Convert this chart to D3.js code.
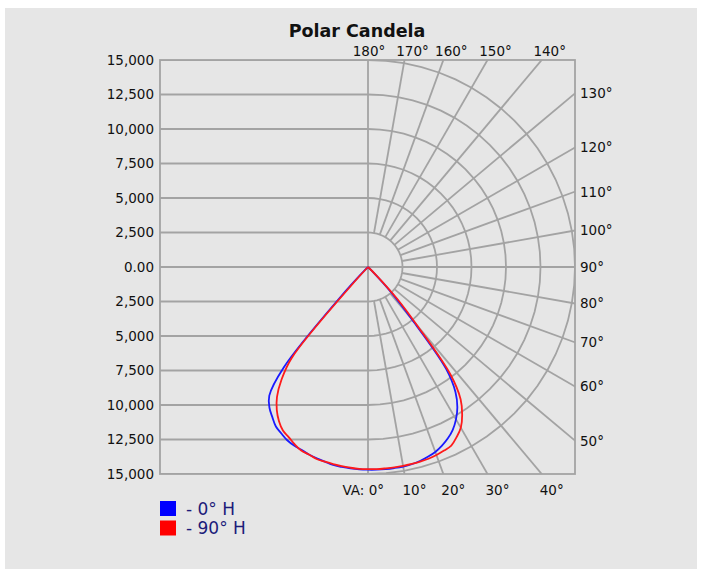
<!DOCTYPE html>
<html>
<head>
<meta charset="utf-8">
<script src="https://cdn.jsdelivr.net/npm/d3@7"></script>
<style>
  body { margin: 0; background: #fff; }
  text { font-family: "DejaVu Sans", Verdana, sans-serif; }
</style>
</head>
<body>
<script>
'use strict';

// vertical angles (deg from nadir) and candela for each half plane
const vAngles = [0, 2.5, 5, 7.5, 10, 12.5, 15, 17.5, 20, 22.5, 25, 27.5, 30, 32.5, 35, 37.5, 40, 42.5, 45, 47.5, 50, 60, 70, 80, 90];
// 0° H plane (blue): right half = 0°, left half = 180°
const h0Right = [14710, 14700, 14700, 14690, 14680, 14640, 14550, 14420, 14260, 14010, 13700, 13300, 12750, 12050, 11050, 9300, 4900, 2400, 400, 0, 0, 0, 0, 0, 0];
const h0Left = [14690, 14680, 14650, 14610, 14570, 14450, 14350, 14240, 14100, 14000, 13850, 13600, 13350, 12900, 12450, 11750, 9500, 3000, 300, 0, 0, 0, 0, 0, 0];
// 90° H plane (red): right half = 90°, left half = 270°
const h90Right = [14660, 14660, 14650, 14650, 14640, 14620, 14600, 14570, 14500, 14400, 14280, 13900, 13450, 12700, 11700, 9800, 5600, 3100, 900, 0, 0, 0, 0, 0, 0];
const h90Left = [14650, 14640, 14600, 14560, 14500, 14450, 14400, 14250, 14150, 13900, 13600, 13350, 12900, 12300, 11500, 10300, 8600, 1500, 0, 0, 0, 0, 0, 0, 0];

const seriesNames = ["- 0\u00b0 H", "- 90\u00b0 H"];
const seriesColors = ["#1a1aff", "#ff1a1a"];

const candelaTicks = [15000, 12500, 10000, 7500, 5000, 2500, 0, -2500, -5000, -7500, -10000, -12500, -15000];
const ringValues = [2500, 5000, 7500, 10000, 12500, 15000];
const spokeAngles = [10, 20, 30, 40, 50, 60, 70, 80, 100, 110, 120, 130, 140, 150, 160, 170];
const topLabels = [180, 170, 160, 150, 140];
const rightLabels = [130, 120, 110, 100, 90, 80, 70, 60, 50];
const bottomLabels = [0, 10, 20, 30, 40];

const width = 702, height = 575;
const cx = 368, cy = 267, R = 207;
const plotLeft = 160, plotRight = cx + R, plotTop = cy - R, plotBottom = cy + R;
const gridColor = "#a3a3a3";
const bg = "#e6e6e6";

const svg = d3.select("body").append("svg")
  .attr("width", width)
  .attr("height", height);

// gray panel
svg.append("rect")
  .attr("x", 5).attr("y", 8)
  .attr("width", 692).attr("height", 561)
  .attr("fill", bg);

// scales
const rScale = d3.scaleLinear().domain([0, 15000]).range([0, R]);
const yScale = d3.scaleLinear().domain([-15000, 15000]).range([plotBottom, plotTop]);
const rad = (deg) => deg * Math.PI / 180;

svg.append("clipPath").attr("id", "plotClip")
  .append("rect")
  .attr("x", plotLeft).attr("y", plotTop)
  .attr("width", plotRight - plotLeft).attr("height", plotBottom - plotTop);

const grid = svg.append("g")
  .attr("clip-path", "url(#plotClip)")
  .attr("fill", "none")
  .attr("stroke", gridColor)
  .attr("stroke-width", 1.8);

// left half: horizontal candela lines
grid.selectAll(".hline")
  .data(candelaTicks)
  .enter()
  .append("line")
  .attr("x1", plotLeft).attr("x2", cx)
  .attr("y1", (d) => yScale(d)).attr("y2", (d) => yScale(d));

// axis lines through the centre
grid.append("line").attr("x1", cx).attr("x2", cx).attr("y1", plotTop).attr("y2", plotBottom);
grid.append("line").attr("x1", cx).attr("x2", plotRight).attr("y1", cy).attr("y2", cy);

// rings on right half (polyline through the spokes)
const ringLine = d3.lineRadial()
  .angle((d) => Math.PI - rad(d[0]))
  .radius((d) => rScale(d[1]));
ringValues.forEach((v) => {
  const pts = d3.range(0, 181, 5).map((a) => [a, v]);
  grid.append("path")
    .attr("transform", `translate(${cx},${cy})`)
    .attr("d", ringLine(pts));
});

// spokes from inner ring out past the frame
grid.selectAll(".spoke")
  .data(spokeAngles)
  .enter()
  .append("line")
  .attr("x1", (d) => cx + rScale(2500) * Math.sin(rad(d)))
  .attr("y1", (d) => cy + rScale(2500) * Math.cos(rad(d)))
  .attr("x2", (d) => cx + 2 * R * Math.sin(rad(d)))
  .attr("y2", (d) => cy + 2 * R * Math.cos(rad(d)));

// frame
svg.append("rect")
  .attr("x", plotLeft).attr("y", plotTop)
  .attr("width", plotRight - plotLeft).attr("height", plotBottom - plotTop)
  .attr("fill", "none")
  .attr("stroke", gridColor)
  .attr("stroke-width", 1.8);

// candela labels on the left
const fmt = d3.format(",");
svg.append("g").selectAll("text")
  .data(candelaTicks)
  .enter()
  .append("text")
  .attr("x", plotLeft - 6)
  .attr("y", (d) => yScale(d))
  .attr("dy", "0.36em")
  .attr("text-anchor", "end")
  .style("font-size", "13.5px")
  .attr("fill", "#111")
  .text((d) => d === 0 ? "0.00" : fmt(Math.abs(d)));

// angle labels: where each spoke hits the frame
function edgeHit(a) {
  const sx = Math.sin(rad(a)), sy = Math.cos(rad(a));
  let t = Infinity;
  if (sx > 1e-6) t = Math.min(t, R / sx);
  if (Math.abs(sy) > 1e-6) t = Math.min(t, R / Math.abs(sy));
  return [cx + t * sx, cy + t * sy];
}

svg.append("g").selectAll("text")
  .data(topLabels)
  .enter()
  .append("text")
  .attr("x", (d) => d === 180 ? edgeHit(d)[0] + 1 : edgeHit(d)[0] + 8)
  .attr("y", plotTop - 4)
  .attr("text-anchor", "middle")
  .style("font-size", "13.5px")
  .attr("fill", "#111")
  .text((d) => d + "\u00b0");

svg.append("g").selectAll("text")
  .data(rightLabels)
  .enter()
  .append("text")
  .attr("x", plotRight + 5)
  .attr("y", (d) => edgeHit(d)[1])
  .attr("dy", "0.36em")
  .style("font-size", "13.5px")
  .attr("fill", "#111")
  .text((d) => d + "\u00b0");

svg.append("g").selectAll("text")
  .data(bottomLabels)
  .enter()
  .append("text")
  .attr("x", (d) => d === 0 ? edgeHit(d)[0] + 16 : edgeHit(d)[0] + 10)
  .attr("y", plotBottom + 21)
  .attr("text-anchor", (d) => d === 0 ? "end" : "middle")
  .style("font-size", "13.5px")
  .attr("fill", "#111")
  .text((d) => d === 0 ? "VA: 0\u00b0" : d + "\u00b0");

// title
svg.append("text")
  .attr("x", 357)
  .attr("y", 37)
  .attr("text-anchor", "middle")
  .style("font-size", "17.5px")
  .style("font-weight", "bold")
  .attr("fill", "#111")
  .text("Polar Candela");

// candela curves
function planePoints(left, right) {
  const pts = [];
  for (let i = vAngles.length - 1; i >= 0; i--) pts.push([Math.PI + rad(vAngles[i]), rScale(left[i])]);
  for (let i = 1; i < vAngles.length; i++) pts.push([Math.PI - rad(vAngles[i]), rScale(right[i])]);
  return pts;
}

const curve = d3.lineRadial()
  .angle((d) => d[0])
  .radius((d) => d[1])
  .curve(d3.curveCatmullRom.alpha(0.5));

const planes = [planePoints(h0Left, h0Right), planePoints(h90Left, h90Right)];

svg.append("g")
  .attr("transform", `translate(${cx},${cy})`)
  .selectAll("path")
  .data(planes)
  .enter()
  .append("path")
  .attr("d", curve)
  .attr("fill", "none")
  .attr("stroke", (d, i) => seriesColors[i])
  .attr("stroke-width", 1.8)
  .attr("stroke-linejoin", "round");

// legend
const legend = svg.append("g").attr("transform", "translate(160, 501)");
legend.selectAll("rect")
  .data(seriesNames)
  .enter()
  .append("rect")
  .attr("x", 0)
  .attr("y", (d, i) => i * 19.5)
  .attr("width", 16).attr("height", 15)
  .attr("fill", (d, i) => i === 0 ? "#0000ff" : "#ff0000");

legend.selectAll("text")
  .data(seriesNames)
  .enter()
  .append("text")
  .attr("x", 26)
  .attr("y", (d, i) => i * 19.5 + 7.5)
  .attr("dy", "0.36em")
  .style("font-size", "17px")
  .attr("fill", "#1c1c7a")
  .text((d) => d);
</script>
</body>
</html>
